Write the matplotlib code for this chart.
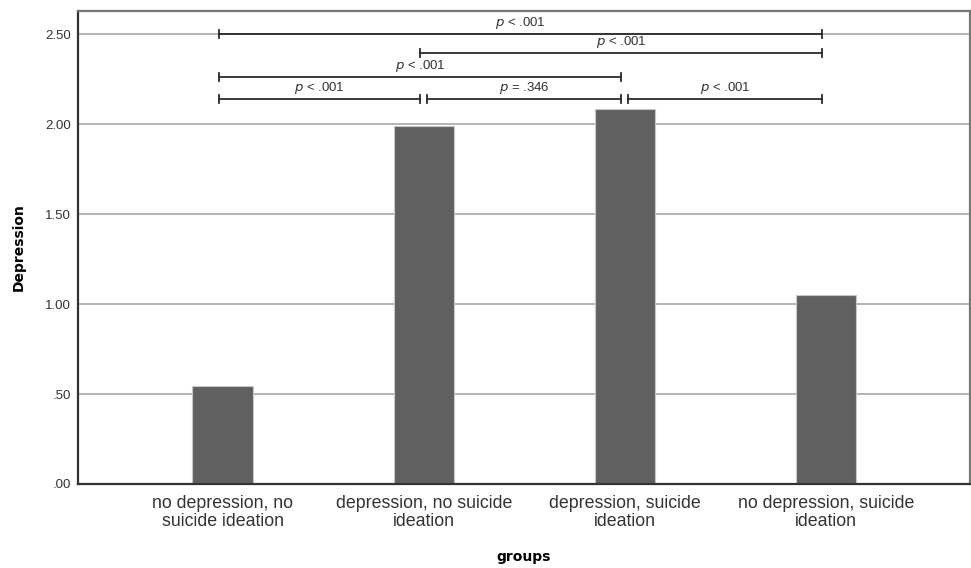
import matplotlib
matplotlib.use("Agg")
import matplotlib.pyplot as plt
import numpy as np

# group means of the depression score
groups = ["no depression, no\nsuicide ideation",
          "depression, no suicide\nideation",
          "depression, suicide\nideation",
          "no depression, suicide\nideation"]
means = [0.544, 1.989, 2.083, 1.050]

# pairwise comparisons: (group a, group b, bracket height, label)
pairs = [(0, 3, 2.500, "< .001"),
         (1, 3, 2.394, "< .001"),
         (0, 2, 2.261, "< .001"),
         (0, 1, 2.139, "< .001"),
         (1, 2, 2.139, "= .346"),
         (2, 3, 2.139, "< .001")]

yticks = [0.0, 0.5, 1.0, 1.5, 2.0, 2.5]
ytick_labels = [".00", ".50", "1.00", "1.50", "2.00", "2.50"]

plt.rcParams['font.family'] = ['Liberation Sans', 'DejaVu Sans']

fig = plt.figure(figsize=(9.71, 5.68), dpi=100)
ax = fig.add_axes([0.0803, 0.1479, 0.9187, 0.8327])

x = np.arange(len(groups))
ax.set_axisbelow(True)
ax.yaxis.grid(True, color="#b4b4b4", linewidth=1.4)
ax.bar(x, means, width=0.3, color="#606060", edgecolor="#c8c8c8", linewidth=0.8, zorder=2)

ax.set_xlim(-0.719, 3.716)
ax.set_ylim(0, 2.628)
ax.set_xticks(x)
ax.set_xticklabels(groups, fontsize=12.8, color="#333333", linespacing=1.1)
ax.set_yticks(yticks)
ax.set_yticklabels(ytick_labels, fontsize=9.5, color="#333333")
ax.tick_params(length=0, pad=5)
ax.tick_params(axis="x", pad=8)

for side in ["left", "bottom"]:
    ax.spines[side].set_color("#333333")
    ax.spines[side].set_linewidth(1.6)
for side in ["top", "right"]:
    ax.spines[side].set_color("#777777")
    ax.spines[side].set_linewidth(1.6)

ax.set_ylabel("Depression", fontsize=10, fontweight="bold", family="DejaVu Sans", labelpad=14)
ax.set_xlabel("groups", fontsize=10, fontweight="bold", family="DejaVu Sans", labelpad=14)

# significance brackets
gap = 0.018
tick_h = 0.022
for a, b, h, lab in pairs:
    x0 = a - gap
    x1 = b - gap
    if b - a == 1 and a > 0:
        x0 = a + gap
    ax.plot([x0, x1], [h, h], color="#2a2a2a", linewidth=1.3, zorder=3)
    for xe in (x0, x1):
        ax.plot([xe, xe], [h - tick_h, h + tick_h], color="#2a2a2a", linewidth=1.3, zorder=3)
    ax.text((x0 + x1) / 2, h + 0.018, "$p$ " + lab, ha="center", va="bottom",
            fontsize=9.5, color="#333333")

fig.savefig("out.png", dpi=100)
